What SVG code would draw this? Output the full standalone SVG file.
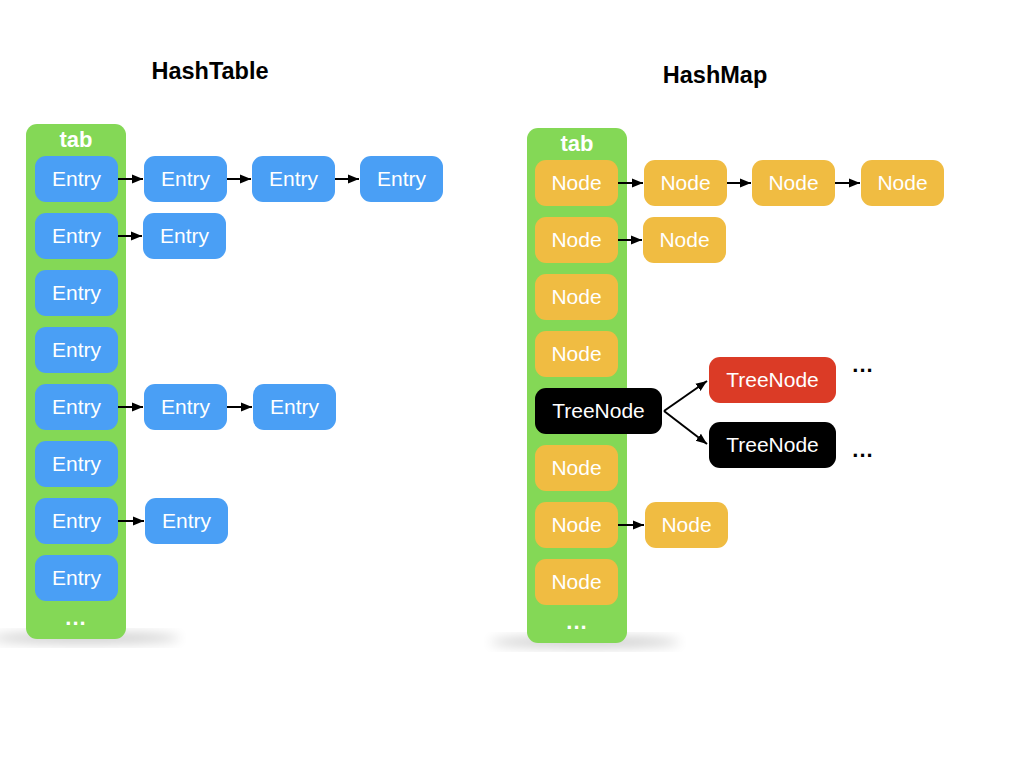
<svg xmlns="http://www.w3.org/2000/svg" width="1024" height="768" viewBox="0 0 1024 768">
<defs>
<filter id="blur" x="-50%" y="-50%" width="200%" height="200%"><feGaussianBlur stdDeviation="6"/></filter>
<marker id="ah" viewBox="0 0 10 10" refX="10" refY="5" markerWidth="11" markerHeight="11" markerUnits="userSpaceOnUse" orient="auto"><path d="M0,1 L10,5 L0,9 z" fill="#000"/></marker>
<style>
.col{fill:#84D856}
.e{fill:#4A9FF5}
.n{fill:#F0BC42}
.r{fill:#DB3B26}
.k{fill:#000}
.t{font-family:"Liberation Sans",Arial,sans-serif;font-size:21px;fill:#fff;text-anchor:middle}
.h{font-family:"Liberation Sans",Arial,sans-serif;font-size:23.5px;font-weight:bold;fill:#000;text-anchor:middle}
.tab{font-family:"Liberation Sans",Arial,sans-serif;font-size:22px;font-weight:bold;fill:#fff;text-anchor:middle}
.d{font-family:"Liberation Sans",Arial,sans-serif;font-size:22px;font-weight:bold;text-anchor:middle;letter-spacing:1px}
.c{stroke:#000;stroke-width:2;fill:none;marker-end:url(#ah)}
</style>
</defs>
<rect width="1024" height="768" fill="#fff"/>
<text class="h" x="210" y="79">HashTable</text>
<text class="h" x="715" y="83">HashMap</text>

<g id="hashtable-tab">
<ellipse cx="85" cy="638" rx="95" ry="5" fill="#000" opacity="0.22" filter="url(#blur)"/>
<rect class="col" x="26" y="124" width="100" height="515" rx="11"/>
<text class="tab" x="76" y="147">tab</text>
<text class="d" x="76" y="625" fill="#fff">...</text>
</g>
<g id="ht-r1c1"><rect class="e" x="35" y="156" width="83" height="46" rx="11"/><text class="t" x="76.5" y="186">Entry</text></g>
<g id="ht-r2c1"><rect class="e" x="35" y="213" width="83" height="46" rx="11"/><text class="t" x="76.5" y="243">Entry</text></g>
<g id="ht-r3c1"><rect class="e" x="35" y="270" width="83" height="46" rx="11"/><text class="t" x="76.5" y="300">Entry</text></g>
<g id="ht-r4c1"><rect class="e" x="35" y="327" width="83" height="46" rx="11"/><text class="t" x="76.5" y="357">Entry</text></g>
<g id="ht-r5c1"><rect class="e" x="35" y="384" width="83" height="46" rx="11"/><text class="t" x="76.5" y="414">Entry</text></g>
<g id="ht-r6c1"><rect class="e" x="35" y="441" width="83" height="46" rx="11"/><text class="t" x="76.5" y="471">Entry</text></g>
<g id="ht-r7c1"><rect class="e" x="35" y="498" width="83" height="46" rx="11"/><text class="t" x="76.5" y="528">Entry</text></g>
<g id="ht-r8c1"><rect class="e" x="35" y="555" width="83" height="46" rx="11"/><text class="t" x="76.5" y="585">Entry</text></g>
<g id="ht-r1c2"><rect class="e" x="144" y="156" width="83" height="46" rx="11"/><text class="t" x="185.5" y="186">Entry</text></g>
<g id="ht-r1c3"><rect class="e" x="252" y="156" width="83" height="46" rx="11"/><text class="t" x="293.5" y="186">Entry</text></g>
<g id="ht-r1c4"><rect class="e" x="360" y="156" width="83" height="46" rx="11"/><text class="t" x="401.5" y="186">Entry</text></g>
<g id="ht-r2c2"><rect class="e" x="143" y="213" width="83" height="46" rx="11"/><text class="t" x="184.5" y="243">Entry</text></g>
<g id="ht-r5c2"><rect class="e" x="144" y="384" width="83" height="46" rx="11"/><text class="t" x="185.5" y="414">Entry</text></g>
<g id="ht-r5c3"><rect class="e" x="253" y="384" width="83" height="46" rx="11"/><text class="t" x="294.5" y="414">Entry</text></g>
<g id="ht-r7c2"><rect class="e" x="145" y="498" width="83" height="46" rx="11"/><text class="t" x="186.5" y="528">Entry</text></g>

<g id="hashmap-tab">
<ellipse cx="585" cy="642" rx="95" ry="5" fill="#000" opacity="0.22" filter="url(#blur)"/>
<rect class="col" x="527" y="128" width="100" height="515" rx="11"/>
<text class="tab" x="577" y="151">tab</text>
<text class="d" x="577" y="629" fill="#fff">...</text>
</g>
<g id="hm-r1c1"><rect class="n" x="535" y="160" width="83" height="46" rx="11"/><text class="t" x="576.5" y="190">Node</text></g>
<g id="hm-r2c1"><rect class="n" x="535" y="217" width="83" height="46" rx="11"/><text class="t" x="576.5" y="247">Node</text></g>
<g id="hm-r3c1"><rect class="n" x="535" y="274" width="83" height="46" rx="11"/><text class="t" x="576.5" y="304">Node</text></g>
<g id="hm-r4c1"><rect class="n" x="535" y="331" width="83" height="46" rx="11"/><text class="t" x="576.5" y="361">Node</text></g>
<g id="hm-r5c1"><rect class="k" x="535" y="388" width="127" height="46" rx="11"/><text class="t" x="598.5" y="418">TreeNode</text></g>
<g id="hm-r6c1"><rect class="n" x="535" y="445" width="83" height="46" rx="11"/><text class="t" x="576.5" y="475">Node</text></g>
<g id="hm-r7c1"><rect class="n" x="535" y="502" width="83" height="46" rx="11"/><text class="t" x="576.5" y="532">Node</text></g>
<g id="hm-r8c1"><rect class="n" x="535" y="559" width="83" height="46" rx="11"/><text class="t" x="576.5" y="589">Node</text></g>
<g id="hm-r1c2"><rect class="n" x="644" y="160" width="83" height="46" rx="11"/><text class="t" x="685.5" y="190">Node</text></g>
<g id="hm-r1c3"><rect class="n" x="752" y="160" width="83" height="46" rx="11"/><text class="t" x="793.5" y="190">Node</text></g>
<g id="hm-r1c4"><rect class="n" x="861" y="160" width="83" height="46" rx="11"/><text class="t" x="902.5" y="190">Node</text></g>
<g id="hm-r2c2"><rect class="n" x="643" y="217" width="83" height="46" rx="11"/><text class="t" x="684.5" y="247">Node</text></g>
<g id="hm-r7c2"><rect class="n" x="645" y="502" width="83" height="46" rx="11"/><text class="t" x="686.5" y="532">Node</text></g>
<g id="hm-tree-red"><rect class="r" x="709" y="357" width="127" height="46" rx="11"/><text class="t" x="772.5" y="387">TreeNode</text></g>
<g id="hm-tree-black"><rect class="k" x="709" y="422" width="127" height="46" rx="11"/><text class="t" x="772.5" y="452">TreeNode</text></g>
<text class="d" x="863" y="372" fill="#000">...</text>
<text class="d" x="863" y="457" fill="#000">...</text>

<g id="connectors">
<line class="c" x1="118" y1="179" x2="143" y2="179"/>
<line class="c" x1="227" y1="179" x2="251" y2="179"/>
<line class="c" x1="335" y1="179" x2="359" y2="179"/>
<line class="c" x1="118" y1="236" x2="142" y2="236"/>
<line class="c" x1="118" y1="407" x2="143" y2="407"/>
<line class="c" x1="227" y1="407" x2="252" y2="407"/>
<line class="c" x1="118" y1="521" x2="144" y2="521"/>
<line class="c" x1="618" y1="183" x2="643" y2="183"/>
<line class="c" x1="727" y1="183" x2="751" y2="183"/>
<line class="c" x1="835" y1="183" x2="860" y2="183"/>
<line class="c" x1="618" y1="240" x2="642" y2="240"/>
<line class="c" x1="618" y1="525" x2="644" y2="525"/>
<line class="c" x1="664" y1="411" x2="707" y2="381"/>
<line class="c" x1="664" y1="411" x2="707" y2="444"/>
</g>
</svg>
